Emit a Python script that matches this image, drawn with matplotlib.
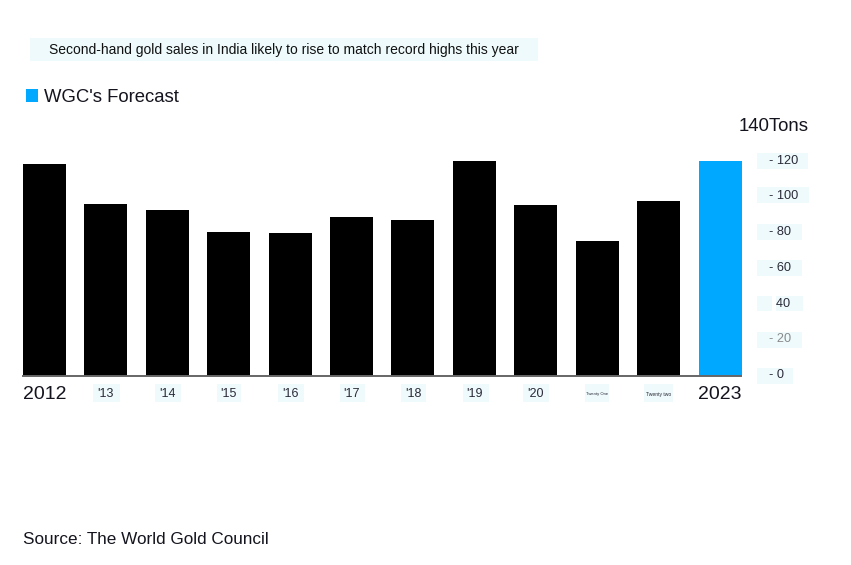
import matplotlib
matplotlib.use("Agg")
import matplotlib.pyplot as plt
from matplotlib.patches import Rectangle
from matplotlib.transforms import ScaledTranslation

years = ["2012", "'13", "'14", "'15", "'16", "'17", "'18", "'19", "'20",
         "Twenty One", "Twenty two", "2023"]
tons = [118.3, 96, 92.5, 80.5, 79.8, 88.7, 87.2, 120, 95.6, 75.5, 97.5, 120]
forecast = [False] * 11 + [True]
yticks = [0, 20, 40, 60, 80, 100, 120]
ylabels = ["- 0", "- 20", "  40", "- 60", "- 80", "- 100", "- 120"]
title = "Second-hand gold sales in India likely to rise to match record highs this year"
legend_label = "WGC's Forecast"
source = "Source: The World Gold Council"

W, H = 851, 565
INK = "#14141e"
BLUE = "#00a9ff"
TINT = "#eefafb"
plt.rcParams["font.family"] = ["Liberation Sans", "DejaVu Sans"]

fig = plt.figure(figsize=(W / 100, H / 100), dpi=100, facecolor="white")


def fx(px):
    return px / W


def fy(py):
    return 1 - py / H


def tint(x0, y0, x1, y1, color=TINT):
    fig.add_artist(Rectangle((fx(x0), fy(y1)), (x1 - x0) / W, (y1 - y0) / H,
                             transform=fig.transFigure, facecolor=color,
                             edgecolor="none", zorder=0))


# soft highlight patches behind the labels
tint(30, 38, 538, 61)
for box in [(757, 153, 808, 169), (757, 187, 809, 203), (757, 224, 802, 240),
            (757, 260, 802, 276), (757, 296, 772, 311), (776, 296, 803, 311),
            (757, 332, 802, 348), (757, 368, 793, 384),
            (93, 384, 120, 402), (155, 384, 181, 402), (217, 384, 241, 402),
            (278, 384, 304, 402), (340, 384, 365, 402), (401, 384, 426, 402),
            (463, 384, 489, 402), (523, 384, 549, 402), (585, 384, 609, 402),
            (644, 384, 673, 402)]:
    tint(*box)

ax = fig.add_axes([fx(23), fy(375.5), (741.5 - 23) / W, 249.9 / H], facecolor="none")
ax.set_zorder(2)
ax.bar(range(len(years)), tons, width=0.7,
       color=[BLUE if f else "black" for f in forecast], linewidth=0)
ax.set_xlim(-0.35, len(years) - 1 + 0.35)
ax.set_ylim(0, 140)

for side in ["top", "left", "right"]:
    ax.spines[side].set_visible(False)
ax.spines["bottom"].set_color("#666666")
ax.spines["bottom"].set_linewidth(1.4)

ax.yaxis.tick_right()
ax.set_yticks(yticks)
ax.set_yticklabels(ylabels, fontsize=9.2, color="#2a2a38", ha="left")
ax.tick_params(axis="y", length=0, pad=19.5)
up = ScaledTranslation(0, 1.5 / 72, fig.dpi_scale_trans)
for lab, val in zip(ax.get_yticklabels(), yticks):
    lab.set_transform(lab.get_transform() + up)
    if val == 20:
        lab.set_color("#8a8a8a")

ax.set_xticks(range(len(years)))
ax.set_xticklabels(years, fontsize=9, color="#2a2a38", va="center")
ax.tick_params(axis="x", length=0, pad=13.4)
for lab, txt in zip(ax.get_xticklabels(), years):
    if txt in ("2012", "2023"):
        lab.set_fontsize(14)
        lab.set_color(INK)
    elif txt == "Twenty One":
        lab.set_fontsize(3.0)
    elif txt == "Twenty two":
        lab.set_fontsize(3.6)

ax.annotate("140Tons", xy=(1, 140), xycoords=("axes fraction", "data"),
            xytext=(-2, -0.7), textcoords="offset points", ha="left", va="center",
            fontsize=13.4, color=INK)

fig.text(fx(49), fy(49.8), title, fontsize=10.0, color="#111111", va="center", ha="left")
fig.add_artist(Rectangle((fx(25.5), fy(102)), 12.5 / W, 12.5 / H,
                         transform=fig.transFigure, facecolor=BLUE, edgecolor="none"))
fig.text(fx(44.5), fy(97), legend_label, fontsize=13.3, color=INK, va="center", ha="left")
fig.text(fx(23), fy(540), source, fontsize=12.3, color=INK, va="center", ha="left")

fig.savefig("out.png", dpi=100, facecolor="white")
